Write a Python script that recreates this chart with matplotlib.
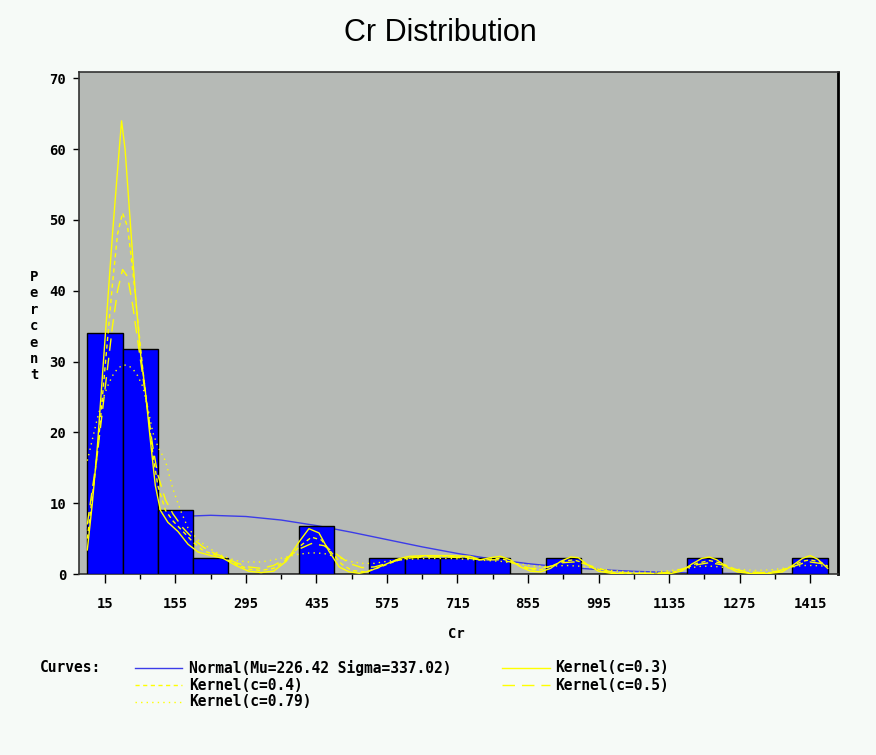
import matplotlib
matplotlib.use("Agg")
import matplotlib.pyplot as plt
from matplotlib.lines import Line2D

# ---------------- data ----------------
midpoints = [15, 85, 155, 225, 295, 365, 435, 505, 575, 645, 715, 785,
             855, 925, 995, 1065, 1135, 1205, 1275, 1345, 1415]
percents = [34.09, 31.82, 9.09, 2.27, 0, 0, 6.82, 0, 2.27, 2.27, 2.27, 2.27,
            0, 2.27, 0, 0, 0, 2.27, 0, 0, 2.27]
bin_width = 70

major_ticks = [15, 155, 295, 435, 575, 715, 855, 995, 1135, 1275, 1415]
minor_ticks = [85, 225, 365, 505, 645, 785, 925, 1065, 1205, 1345]
y_ticks = [0, 10, 20, 30, 40, 50, 60, 70]

normal_x = [-20, 15, 85, 155, 225, 295, 365, 435, 505, 575, 645, 715, 785,
            855, 925, 995, 1065, 1135, 1205, 1275, 1345, 1415, 1450]
normal_y = [6.35, 6.81, 7.59, 8.11, 8.29, 8.12, 7.62, 6.84, 5.89, 4.86, 3.83,
            2.90, 2.10, 1.46, 0.97, 0.62, 0.38, 0.22, 0.12, 0.065, 0.034,
            0.016, 0.011]

k03_x = [-20, -10, 0, 10, 20, 30, 40, 48, 55, 65, 75, 85, 95, 105, 115, 125,
         140, 160, 180, 200, 225, 250, 275, 300, 325, 350, 375, 400, 420, 440,
         460, 480, 500, 520, 540, 560, 580, 600, 620, 650, 700, 740, 760, 780,
         800, 820, 840, 860, 880, 900, 920, 940, 955, 975, 995, 1020, 1050,
         1080, 1110, 1140, 1160, 1180, 1200, 1215, 1230, 1250, 1270, 1300,
         1330, 1360, 1380, 1400, 1415, 1430, 1450]
k03_y = [3.4, 10, 18, 28, 38, 48, 57, 64, 60, 50, 40, 31.5, 26, 19, 12.5, 9,
         7.3, 6, 4.2, 3.1, 2.6, 2.2, 1.2, 0.4, 0.2, 0.4, 1.8, 4.5, 6.4, 5.8,
         3.2, 1.0, 0.3, 0.1, 0.4, 1.0, 1.6, 2.2, 2.5, 2.6, 2.6, 2.5, 2.0, 2.3,
         2.5, 2.0, 1.0, 0.4, 0.3, 0.8, 1.8, 2.4, 2.3, 1.2, 0.4, 0.1, 0.0,
         0.0, 0.0, 0.1, 0.4, 1.4, 2.2, 2.4, 2.0, 1.0, 0.3, 0.05,
         0.05, 0.3, 1.2, 2.2, 2.6, 2.1, 0.8]

k04_x = [-20, -10, 0, 10, 20, 30, 40, 50, 60, 70, 80, 90, 100, 110, 120, 135,
         150, 170, 190, 210, 230, 250, 275, 300, 325, 350, 375, 400, 425, 445,
         465, 485, 505, 530, 555, 580, 600, 625, 650, 700, 740, 760, 780, 800,
         820, 840, 860, 880, 900, 925, 945, 965, 985, 1010, 1040, 1080, 1110,
         1140, 1165, 1190, 1215, 1240, 1265, 1290, 1320, 1350, 1375, 1400,
         1415, 1435, 1450]
k04_y = [5, 11, 17, 25, 33, 41, 48, 51, 49, 43, 36, 29, 23, 17, 12.5, 9,
         7.5, 6, 4.5, 3.3, 2.8, 2.3, 1.4, 0.7, 0.5, 0.8, 2.0, 3.8, 5.2, 4.8,
         3.0, 1.4, 0.5, 0.3, 0.8, 1.5, 2.0, 2.4, 2.5, 2.5, 2.3, 2.0, 2.1, 2.2,
         1.8, 1.1, 0.6, 0.6, 1.1, 1.8, 2.0, 1.6, 0.9, 0.3, 0.1, 0.05, 0.05,
         0.2, 0.7, 1.5, 1.9, 1.5, 0.7, 0.2, 0.1, 0.3, 1.0, 1.8,
         2.0, 1.7, 1.1]

k05_x = [-20, -10, 0, 10, 20, 30, 40, 50, 60, 70, 80, 90, 100, 110, 120, 135,
         150, 170, 190, 210, 230, 250, 275, 300, 325, 350, 375, 400, 425, 450,
         475, 500, 525, 550, 575, 600, 625, 650, 700, 740, 760, 780, 800, 820,
         840, 860, 880, 900, 925, 945, 965, 990, 1015, 1045, 1080, 1110, 1140,
         1165, 1190, 1215, 1240, 1265, 1290, 1320, 1350, 1375, 1400, 1415,
         1435, 1450]
k05_y = [7, 12, 17, 23, 29, 35, 40, 43, 42, 38, 33, 28, 23, 18, 14, 10.5,
         8.5, 6.5, 5, 3.8, 3.0, 2.4, 1.6, 1.0, 0.8, 1.2, 2.2, 3.5, 4.3, 4.0,
         2.8, 1.5, 0.9, 1.0, 1.5, 2.0, 2.3, 2.4, 2.4, 2.2, 2.0, 2.0, 2.0, 1.7,
         1.2, 0.8, 0.8, 1.1, 1.6, 1.7, 1.5, 0.9, 0.4, 0.15, 0.1, 0.1, 0.3,
         0.8, 1.3, 1.6, 1.3, 0.7, 0.3, 0.2, 0.4, 0.9, 1.5, 1.7,
         1.5, 1.1]

k079_x = [-20, -10, 0, 10, 20, 30, 40, 50, 60, 70, 80, 90, 100, 110, 120,
          135, 150, 165, 180, 200, 225, 250, 275, 300, 325, 350, 375, 400,
          425, 450, 475, 500, 525, 550, 575, 600, 650, 700, 750, 800, 840,
          870, 900, 930, 960, 990, 1020, 1050, 1080, 1110, 1140, 1170, 1200,
          1220, 1250, 1280, 1310, 1340, 1370, 1400, 1420, 1450]
k079_y = [16, 19, 22, 24.5, 26.5, 28, 29, 29.5, 29.5, 29, 28, 26.5, 23.5, 20,
          18, 16, 12, 9, 6.5, 4.8, 3.5, 2.5, 1.9, 1.7, 1.7, 2.0, 2.4, 2.8,
          3.0, 2.9, 2.4, 1.8, 1.5, 1.5, 1.8, 2.0, 2.2, 2.2, 2.0, 1.8, 1.4,
          1.1, 1.1, 1.2, 1.1, 0.8, 0.5, 0.3, 0.25, 0.3, 0.5, 0.8, 1.1,
          1.1, 0.9, 0.6, 0.5, 0.6, 0.9, 1.2, 1.2, 1.1]

legend_labels = ["Normal(Mu=226.42 Sigma=337.02)", "Kernel(c=0.3)",
                 "Kernel(c=0.4)", "Kernel(c=0.5)", "Kernel(c=0.79)"]

# ---------------- style ----------------
W, H = 876, 755
fig = plt.figure(figsize=(W / 100, H / 100), dpi=100, facecolor="#F6FAF7")
L, R, T, B = 79, 838, 72, 574
ax = fig.add_axes([L / W, (H - B) / H, (R - L) / W, (B - T) / H])
ax.set_facecolor("#B6BAB6")

mono = "DejaVu Sans Mono"
yellow = "#FFFF00"
blue = "#3C3CE8"

ax.bar(midpoints, percents, width=bin_width, color="#0000FF",
       edgecolor="black", linewidth=1.0, zorder=3)

ax.plot(normal_x, normal_y, color=blue, lw=1.0, zorder=2)
ax.plot(k03_x, k03_y, color=yellow, lw=1.0, ls="-", zorder=4)
ax.plot(k04_x, k04_y, color=yellow, lw=1.0, ls=(0, (3, 2.5)), zorder=4)
ax.plot(k05_x, k05_y, color=yellow, lw=1.0, ls=(0, (9, 5)), zorder=4)
ax.plot(k079_x, k079_y, color=yellow, lw=1.0, ls=(0, (1, 3)), zorder=4)

ax.set_xlim(-36.5, 1470.5)
ax.set_ylim(0, 70.9)

ax.set_xticks(major_ticks)
ax.set_xticks(minor_ticks, minor=True)
ax.set_yticks(y_ticks)
ax.tick_params(axis="x", which="major", direction="out", length=6.5,
               width=1.0, pad=10, labelsize=10)
ax.tick_params(axis="x", which="minor", direction="out", length=3.6,
               width=1.0)
ax.tick_params(axis="y", direction="out", length=4.3, width=1.0, pad=5,
               labelsize=10)
for lab in ax.get_xticklabels() + ax.get_yticklabels():
    lab.set_fontfamily(mono)
    lab.set_fontweight("bold")

for s in ["left", "bottom", "top"]:
    ax.spines[s].set_color("#333333")
    ax.spines[s].set_linewidth(1.2)
ax.spines["right"].set_color("black")
ax.spines["right"].set_linewidth(2.0)

# title
fig.text(440 / W, 1 - 33 / H, "Cr Distribution", ha="center", va="center",
         fontsize=22, family=["Liberation Sans", "DejaVu Sans"], color="black")

# axis labels
fig.text(456 / W, 1 - 634 / H, "Cr", ha="center", va="center",
         fontsize=10, family=mono, fontweight="bold")
ylabel = "Percent"
for i, ch in enumerate(ylabel):
    fig.text(34 / W, 1 - (277 + i * 16.4) / H, ch, ha="center", va="center",
             fontsize=10, family=mono, fontweight="bold")

# legend (manual, SAS style)
fig.text(40 / W, 1 - 668 / H, "Curves:", ha="left", va="center",
         fontsize=10.5, family=mono, fontweight="bold")
entries = [
    (135, 182, 189, 668, blue, "-"),
    (502, 550, 555, 668, yellow, "-"),
    (135, 182, 189, 685, yellow, (0, (3, 2.5))),
    (502, 550, 555, 685, yellow, (0, (9, 5))),
    (135, 182, 189, 702, yellow, (0, (1, 3))),
]
for idx, (x0, x1, xt, yy, col, ls) in enumerate(entries):
    fig.add_artist(Line2D([x0 / W, x1 / W], [1 - yy / H, 1 - yy / H],
                          transform=fig.transFigure, color=col, lw=1.0,
                          ls=ls))
    fig.text(xt / W, 1 - yy / H, legend_labels[idx], ha="left", va="center",
             fontsize=10.5, family=mono, fontweight="bold")

fig.savefig("out.png", dpi=100, facecolor=fig.get_facecolor())
